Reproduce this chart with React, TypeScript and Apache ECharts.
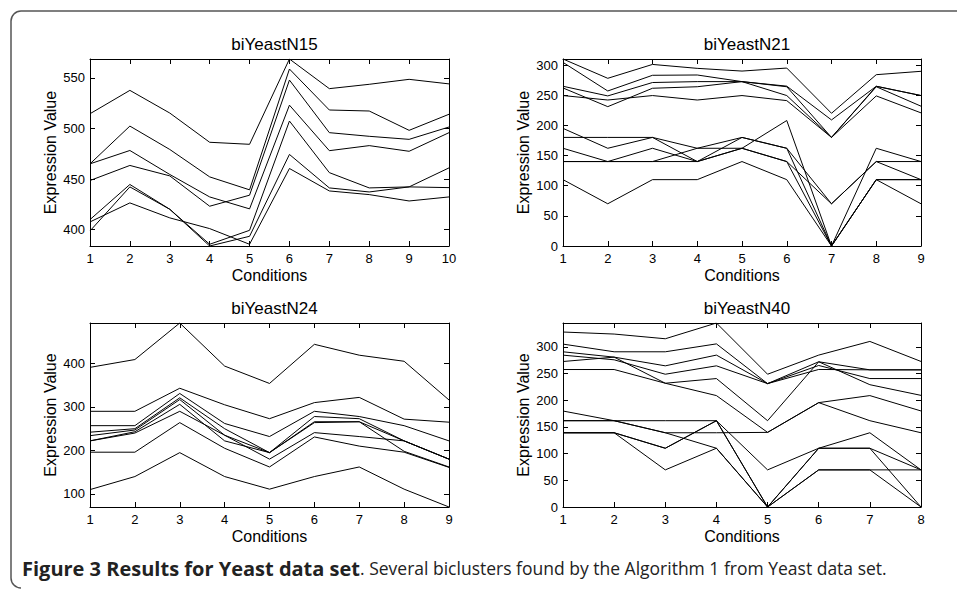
import React, { useEffect, useRef } from "react";
import * as echarts from "echarts";

const FONT = "'Liberation Sans', Arial, Helvetica, sans-serif";
const CAPTION_FONT = "'Open Sans', 'Noto Sans', sans-serif";

// ---- biYeastN15 ----
const N15_TITLE = "biYeastN15";
const N15_CONDITIONS = [1, 2, 3, 4, 5, 6, 7, 8, 9, 10];
const N15_YTICKS = [400, 450, 500, 550];
const N15_VALUES = [
  [514.5, 537.6, 515.2, 486.3, 484.3, 568.6, 539.3, 543.6, 548.5, 544],
  [465, 502.3, 479.2, 452.1, 439.3, 558.7, 518.2, 517.2, 498.1, 514],
  [465, 478.2, 454.5, 432.3, 420.5, 523, 478, 483, 477.4, 495.8],
  [448.5, 463.4, 453.1, 423.1, 434, 547.8, 495.8, 492.2, 489.2, 501.4],
  [409.9, 444.6, 420.1, 385.5, 399.3, 507.3, 456.3, 441.2, 442.2, 441.5],
  [398.7, 442.2, 420.1, 383.8, 393.4, 474.3, 441.2, 437.2, 442.2, 461],
  [407.6, 426.4, 411.6, 401, 385.5, 460.4, 438.2, 434.6, 428.3, 432.3],
];

// ---- biYeastN21 ----
const N21_TITLE = "biYeastN21";
const N21_CONDITIONS = [1, 2, 3, 4, 5, 6, 7, 8, 9];
const N21_YTICKS = [0, 50, 100, 150, 200, 250, 300];
const N21_VALUES = [
  [310, 278, 301, 294.5, 290, 295, 220, 284, 289.6],
  [304.4, 257, 283, 283.5, 272.5, 265, 209, 264.8, 249.4],
  [264.8, 248.8, 271, 272.5, 272.5, 264, 180, 264.8, 249.4],
  [262, 231, 261.5, 264, 272.5, 249.4, 180, 264, 231.8],
  [249.4, 242, 249.4, 242, 249.4, 241, 180, 248.8, 220.7],
  [195, 162, 180, 140, 162, 208, 0, 162, 140],
  [180, 180, 180, 162, 180, 162, 70, 140, 140],
  [162, 140, 162, 140, 180, 162, 0, 110, 110],
  [140, 140, 140, 162, 162, 140, 70, 140, 110],
  [140, 140, 140, 140, 162, 140, 0, 110, 70],
  [110, 70, 110, 110, 140, 110, 0, 110, 110],
];

// ---- biYeastN24 ----
const N24_TITLE = "biYeastN24";
const N24_CONDITIONS = [1, 2, 3, 4, 5, 6, 7, 8, 9];
const N24_YTICKS = [100, 200, 300, 400];
const N24_VALUES = [
  [391, 409, 493, 394, 354, 444, 419, 405, 316],
  [290, 290, 343, 305, 273, 310, 322, 272, 265],
  [257, 257, 331, 262, 232, 290, 278, 257, 222],
  [242, 250, 321, 250, 195, 278, 273, 222, 180],
  [234, 247, 317, 235, 195, 266, 266, 222, 180],
  [222, 243, 306, 222, 195, 264, 266, 198, 162],
  [222, 240, 290, 235, 180, 241, 232, 222, 180],
  [196, 196, 264, 205, 162, 231, 210, 196, 161],
  [110, 140, 195, 140, 111, 140, 162, 111, 70],
];

// ---- biYeastN40 ----
const N40_TITLE = "biYeastN40";
const N40_CONDITIONS = [1, 2, 3, 4, 5, 6, 7, 8];
const N40_YTICKS = [0, 50, 100, 150, 200, 250, 300];
const N40_VALUES = [
  [327.6, 323.8, 315, 344.5, 248.6, 284.4, 310, 272.5],
  [305, 290.6, 290.6, 305.4, 231, 265, 240.5, 240.5],
  [290.6, 280.6, 264.3, 284.4, 231, 257.5, 256.8, 256.8],
  [284.3, 275.6, 248.6, 264.3, 231, 271.9, 229, 209],
  [272.4, 280.6, 231.7, 240.5, 161.6, 271.9, 256.8, 256.8],
  [257.4, 257.4, 231.7, 208.6, 139.7, 195.4, 208.6, 179.8],
  [179.7, 161.6, 139, 110, 0, 69.5, 69.5, 0],
  [161.6, 161.6, 161.6, 161.6, 69.5, 110, 139, 69.5],
  [139, 139, 110, 161.6, 0, 110, 110, 0],
  [139, 139, 110, 161.6, 0, 69.5, 69.5, 69.5],
  [139, 139, 69.5, 110, 0, 110, 110, 69.5],
  [161.6, 161.6, 139, 139, 139.7, 195.4, 161.6, 139],
];

const CAPTION_BOLD = "Figure 3 Results for Yeast data set";
const CAPTION_REST = ". Several biclusters found by the Algorithm 1 from Yeast data set.";

const PANELS = [
  { title: N15_TITLE, conditions: N15_CONDITIONS, values: N15_VALUES, yTicks: N15_YTICKS, grid: { left: 90, top: 59, width: 359, height: 187 } },
  { title: N21_TITLE, conditions: N21_CONDITIONS, values: N21_VALUES, yTicks: N21_YTICKS, grid: { left: 563, top: 59, width: 358, height: 187 } },
  { title: N24_TITLE, conditions: N24_CONDITIONS, values: N24_VALUES, yTicks: N24_YTICKS, grid: { left: 90, top: 323, width: 359, height: 184 } },
  { title: N40_TITLE, conditions: N40_CONDITIONS, values: N40_VALUES, yTicks: N40_YTICKS, grid: { left: 563, top: 323, width: 358, height: 184 } },
];

echarts.graphic.registerShape(
  "frameShape",
  echarts.graphic.extendPath("M 960 11 L 21 11 A 10 10 0 0 0 11 21 L 11 578 A 10 10 0 0 0 21 588", {})
);

function buildOption() {
  const grids: any[] = [];
  const xAxes: any[] = [];
  const yAxes: any[] = [];
  const series: any[] = [];
  const titles: any[] = [];
  const axisLineStyle = { lineStyle: { color: "#000", width: 1 } };

  PANELS.forEach((p, k) => {
    grids.push({ ...p.grid, containLabel: false });
    const flat = p.values.flat();
    const yMin = Math.min(...flat);
    const yMax = Math.max(...flat);
    const nX = p.conditions.length;
    const xMin = p.conditions[0];
    const xMax = p.conditions[nX - 1];
    const xBase = {
      type: "value",
      gridIndex: k,
      min: xMin,
      max: xMax,
      interval: 1,
      axisLine: { show: true, onZero: false, ...axisLineStyle },
      axisTick: { show: true, inside: true, length: 5, lineStyle: { color: "#000" } },
      splitLine: { show: false },
    };
    xAxes.push({
      ...xBase,
      position: "bottom",
      name: "Conditions",
      nameLocation: "middle",
      nameGap: 21,
      nameTextStyle: { fontFamily: FONT, fontSize: 16, color: "#000", verticalAlign: "top" },
      axisLabel: { show: true, fontFamily: FONT, fontSize: 13, color: "#000", margin: 6 },
    });
    xAxes.push({ ...xBase, position: "top", axisLabel: { show: false } });

    const yBase = {
      type: "value",
      gridIndex: k,
      min: yMin,
      max: yMax,
      axisLine: { show: true, onZero: false, ...axisLineStyle },
      axisTick: { show: true, inside: true, length: 5, customValues: p.yTicks, lineStyle: { color: "#000" } },
      splitLine: { show: false },
    };
    yAxes.push({
      ...yBase,
      position: "left",
      name: "Expression Value",
      nameLocation: "middle",
      nameGap: 32,
      nameTextStyle: { fontFamily: FONT, fontSize: 16, color: "#000" },
      axisLabel: { show: true, customValues: p.yTicks, fontFamily: FONT, fontSize: 13, color: "#000", margin: 5 },
    });
    yAxes.push({ ...yBase, position: "right", axisLabel: { show: false } });

    titles.push({
      text: p.title,
      left: p.grid.left + p.grid.width / 2,
      top: p.grid.top - 28,
      textAlign: "center",
      textStyle: { fontFamily: FONT, fontSize: 17, fontWeight: "normal", color: "#000" },
    });

    p.values.forEach((row, i) => {
      series.push({
        type: "line",
        name: `${p.title}-${i + 1}`,
        xAxisIndex: k * 2,
        yAxisIndex: k * 2,
        data: p.conditions.map((c, j) => [c, row[j]]),
        symbol: "none",
        showSymbol: false,
        silent: true,
        lineStyle: { color: "#000", width: 1 },
      });
    });
  });

  return {
    animation: false,
    backgroundColor: "#fff",
    title: titles,
    grid: grids,
    xAxis: xAxes,
    yAxis: yAxes,
    series,
    graphic: [
      {
        type: "frameShape",
        x: 0,
        y: 0,
        silent: true,
        style: { fill: "none", stroke: "#555", lineWidth: 1.5 },
      },
      {
        type: "text",
        left: 22,
        top: 558,
        silent: true,
        style: {
          text: `{b|${CAPTION_BOLD}}{n|${CAPTION_REST}}`,
          rich: {
            b: { fontFamily: CAPTION_FONT, fontSize: 20, fontWeight: "bold", fill: "#222", lineHeight: 24 },
            n: { fontFamily: CAPTION_FONT, fontSize: 17.5, fill: "#222", lineHeight: 24 },
          },
        },
      },
    ],
  };
}

export default function App() {
  const ref = useRef<HTMLDivElement>(null);
  useEffect(() => {
    if (!ref.current) return;
    const chart = echarts.init(ref.current, undefined, { renderer: "svg" });
    chart.setOption(buildOption() as any);
    return () => chart.dispose();
  }, []);
  return (
    <div
      ref={ref}
      style={{ position: "fixed", left: 0, top: 0, width: 957, height: 594, background: "#fff" }}
    />
  );
}
